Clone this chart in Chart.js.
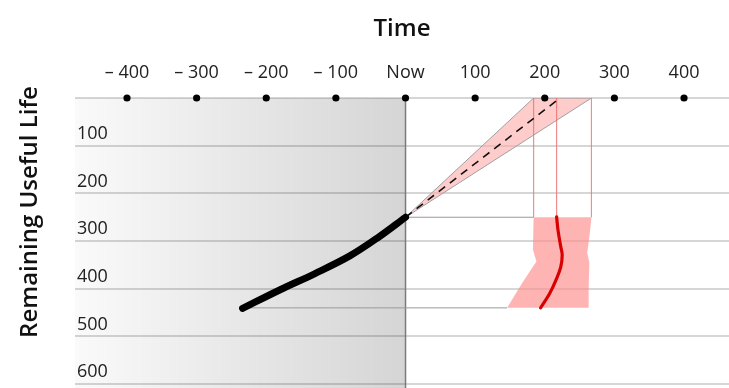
<!DOCTYPE html>
<html><head><meta charset="utf-8">
<script src="https://cdn.jsdelivr.net/npm/chart.js@4"></script>
<style>html,body{margin:0;padding:0;background:#fff;overflow:hidden}</style>
</head><body>
<canvas id="c" width="729" height="388" style="display:block;width:729px;height:388px"></canvas>
<script>
// ---- data ----
const xTickValues = [-400, -300, -200, -100, 0, 100, 200, 300, 400];
const yTickValues = [0, 100, 200, 300, 400, 500, 600];
const xMin = -474.7, xMax = 464.6, yMin = 0, yMax = 608;

const historyX = [-234, -180, -130, -80, -40, 0];
const historyY = [441, 402, 368, 331, 293, 250];

const coneX = [0, 184, 267, 0];
const coneY = [250, 0, 0, 250];
const forecastX = [0, 222];
const forecastY = [250, 0];

const distX = [184, 183, 188, 168, 146, 263, 263, 264, 261, 265, 267, 184];
const distY = [250, 318, 343, 387, 440, 440, 400, 345, 325, 280, 250, 250];

const medianX = [217, 219, 223, 225, 223, 216, 207, 194];
const medianY = [249, 277, 312, 329, 354, 382, 410, 440];

const guideVX = [184, 217, 267];
const guideVTop = 0, guideVBottom = 250;
const nowLevelY = 250, nowLevelEndX = 184;
const eolLevelY = 440, eolStartX = -234, eolEndX = 146;

const pastStartX = xMin, nowX = 0;

const pts = (xs, ys) => xs.map((x, i) => ({x, y: ys[i]}));

const datasets = [
  { // shaded past
    data: pts([pastStartX, nowX], [0, 0]),
    fill: {value: yMax}, borderWidth: 0, pointRadius: 0, order: 20,
    backgroundColor: (ctx) => {
      const ch = ctx.chart; if (!ch.chartArea) return 'rgba(0,0,0,0.08)';
      const a = ch.scales.x.getPixelForValue(pastStartX), b = ch.scales.x.getPixelForValue(nowX);
      const g = ch.ctx.createLinearGradient(a, 0, b, 0);
      g.addColorStop(0, 'rgba(0,0,0,0.02)');
      g.addColorStop(1, 'rgba(0,0,0,0.165)');
      return g;
    }
  },
  { data: pts([nowX, nowX], [yMin, yMax]), borderColor: '#7a7a7a', borderWidth: 1.5, pointRadius: 0, fill: false, order: 19 },
  { data: pts([nowX, nowLevelEndX], [nowLevelY, nowLevelY]), borderColor: '#9a9a9a', borderWidth: 1, pointRadius: 0, fill: false, order: 18 },
  { data: pts([eolStartX, eolEndX], [eolLevelY, eolLevelY]), borderColor: '#9a9a9a', borderWidth: 1, pointRadius: 0, fill: false, order: 18 },
  { data: pts(coneX, coneY), fill: 'shape', backgroundColor: 'rgba(255,170,170,0.6)', borderColor: '#a0a0a0', borderWidth: 1, pointRadius: 0, tension: 0, order: 16 },
  { data: pts(distX, distY), fill: 'shape', backgroundColor: 'rgba(255,140,140,0.65)', borderWidth: 0, borderColor: 'rgba(0,0,0,0)', pointRadius: 0, tension: 0, order: 16 },
];
guideVX.forEach(x => datasets.push({
  data: pts([x, x], [guideVTop, guideVBottom]), borderColor: 'rgba(240,110,110,0.45)', borderWidth: 1, pointRadius: 0, fill: false, order: 15
}));
datasets.push(
  { data: pts(forecastX, forecastY), borderColor: '#111', borderWidth: 1.6, borderDash: [8, 6], pointRadius: 0, fill: false, order: 6 },
  { data: pts(historyX, historyY), borderColor: '#000', borderWidth: 7, borderCapStyle: 'round', tension: 0.35, pointRadius: 0, fill: false, order: 5 },
  { data: pts(medianX, medianY), borderColor: '#d80000', borderWidth: 3.2, borderCapStyle: 'round', tension: 0.4, pointRadius: 0, fill: false, order: 4 },
  { data: xTickValues.map(x => ({x, y: 0})), showLine: false, pointRadius: 3.6, pointBackgroundColor: '#000', pointBorderWidth: 0, clip: false, order: 1 }
);

const yTitle = {
  id: 'yTitle',
  afterDraw(chart) {
    const c = chart.ctx; c.save();
    c.translate(30, 212); c.rotate(-Math.PI / 2);
    c.font = '600 24px "Open Sans"'; c.fillStyle = '#111';
    c.textAlign = 'center'; c.textBaseline = 'middle';
    c.fillText('Remaining Useful Life', 0, 0);
    c.restore();
  }
};

const noPad = s => { s.paddingLeft = 0; s.paddingRight = 0; s.paddingTop = 0; s.paddingBottom = 0; };

new Chart(document.getElementById('c'), {
  type: 'line',
  data: { datasets },
  plugins: [yTitle],
  options: {
    responsive: false, animation: false, devicePixelRatio: 1,
    layout: { padding: 0, autoPadding: false },
    plugins: { legend: { display: false }, tooltip: { enabled: false } },
    scales: {
      x: {
        type: 'linear', position: 'top', min: xMin, max: xMax,
        afterBuildTicks: s => { s.ticks = xTickValues.map(v => ({value: v})); },
        afterFit: s => { s.height = 98; noPad(s); },
        grid: { display: false, drawTicks: false },
        border: { display: false },
        ticks: {
          font: { family: 'Open Sans', size: 18 }, color: '#222', padding: 14, maxRotation: 0, autoSkip: false,
          callback: v => v === 0 ? 'Now' : (v < 0 ? '\u2013 ' + (-v) : String(v))
        },
        title: { display: true, text: 'Time', font: { family: 'Open Sans', size: 24, weight: '600' }, color: '#111', padding: { top: 15, bottom: 0 } }
      },
      y: {
        type: 'linear', position: 'left', reverse: true, min: yMin, max: yMax,
        afterBuildTicks: s => { s.ticks = yTickValues.map(v => ({value: v})); },
        afterFit: s => { s.width = 75; noPad(s); },
        grid: { color: 'rgba(0,0,0,0.16)', lineWidth: 2, drawTicks: false },
        border: { display: false },
        ticks: {
          mirror: true, padding: 2, labelOffset: -12, autoSkip: false,
          font: { family: 'Open Sans', size: 18 }, color: '#222',
          callback: v => v === 0 ? '' : String(v)
        }
      }
    }
  }
});
</script>
</body></html>
